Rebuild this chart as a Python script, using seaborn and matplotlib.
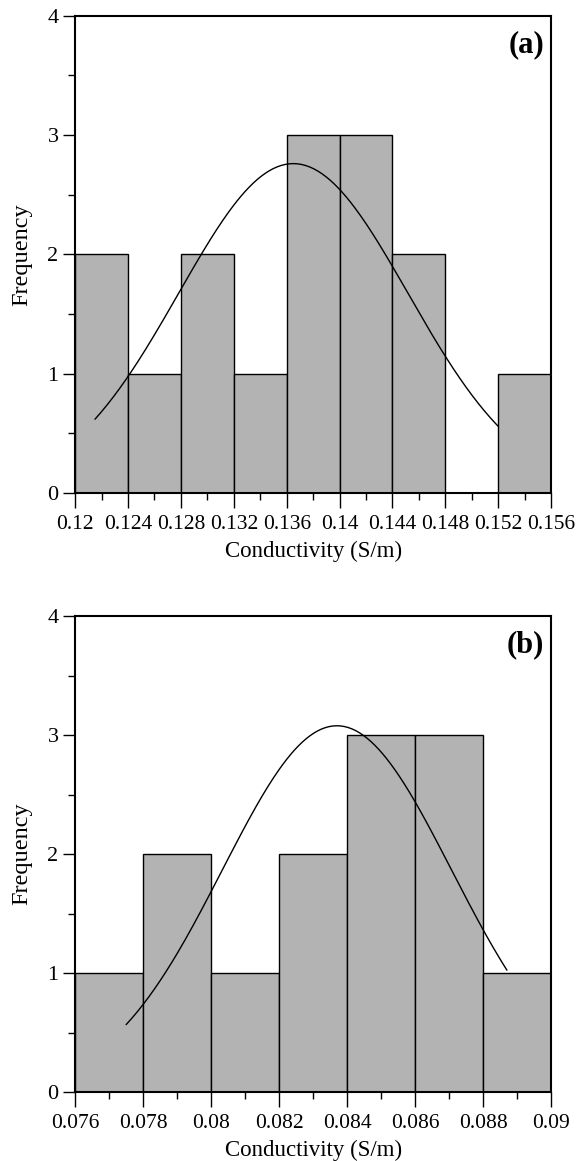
import numpy as np
import pandas as pd
import matplotlib
matplotlib.use("Agg")
import matplotlib.pyplot as plt
import seaborn as sns

# Panel (a): histogram bins and counts
edges_a = [0.12, 0.124, 0.128, 0.132, 0.136, 0.14, 0.144, 0.148, 0.152, 0.156]
counts_a = [2, 1, 2, 1, 3, 3, 2, 0, 1]
# fitted normal curve
mean_a, std_a = 0.1365, 0.00867
curve_range_a = (0.1215, 0.152)
xticklabels_a = ["0.12", "0.124", "0.128", "0.132", "0.136", "0.14", "0.144", "0.148", "0.152", "0.156"]

# Panel (b)
edges_b = [0.076, 0.078, 0.08, 0.082, 0.084, 0.086, 0.088, 0.09]
counts_b = [1, 2, 1, 2, 3, 3, 1]
mean_b, std_b = 0.0837, 0.00337
curve_range_b = (0.0775, 0.0887)
xticklabels_b = ["0.076", "0.078", "0.08", "0.082", "0.084", "0.086", "0.088", "0.09"]

yticks = [0, 1, 2, 3, 4]

sns.set_style("ticks")
plt.rcParams["font.family"] = ["Liberation Serif", "DejaVu Serif"]
plt.rcParams["text.color"] = "black"
plt.rcParams["axes.labelcolor"] = "black"
plt.rcParams["xtick.color"] = "black"
plt.rcParams["ytick.color"] = "black"

fig = plt.figure(figsize=(5.78, 11.61), dpi=100)
ax_a = fig.add_axes([0.130, 0.5754, 0.8235, 0.411])
ax_b = fig.add_axes([0.130, 0.0594, 0.8235, 0.410])


def draw_panel(ax, edges, counts, mean, std, crange, xticklabels, tag):
    e = np.array(edges)
    c = np.array(counts)
    centers = (e[:-1] + e[1:]) / 2
    df = pd.DataFrame({"x": centers, "w": c})
    sns.histplot(data=df, x="x", weights="w", bins=list(edges), ax=ax,
                 color="#b3b3b3", edgecolor="black", linewidth=1.0, alpha=1.0)

    # normal fit curve scaled to counts
    bw = e[1] - e[0]
    xs = np.linspace(crange[0], crange[1], 200)
    ys = c.sum() * bw / (std * np.sqrt(2 * np.pi)) * np.exp(-0.5 * ((xs - mean) / std) ** 2)
    sns.lineplot(x=xs, y=ys, ax=ax, color="black", linewidth=1.0)

    ax.set_xlim(e[0], e[-1])
    ax.set_ylim(0, 4)
    ax.set_xticks(e)
    ax.set_xticklabels(xticklabels, fontsize=15.5)
    ax.set_xticks(centers, minor=True)
    ax.set_yticks(yticks)
    ax.set_yticklabels([str(v) for v in yticks], fontsize=16)
    ax.set_yticks([0.5, 1.5, 2.5, 3.5], minor=True)
    ax.tick_params(axis="x", which="major", direction="out", length=11, width=1.0, pad=5)
    ax.tick_params(axis="y", which="major", direction="out", length=9, width=1.0, pad=3)
    ax.tick_params(axis="both", which="minor", direction="out", length=5, width=1.0)
    ax.set_xlabel("Conductivity (S/m)", fontsize=16.5, labelpad=5)
    ax.set_ylabel("Frequency", fontsize=17.5, labelpad=11)
    for sp in ax.spines.values():
        sp.set_visible(True)
        sp.set_color("black")
        sp.set_linewidth(1.5)
    ax.text(0.985, 0.97, tag, transform=ax.transAxes, ha="right", va="top",
            fontsize=22, fontweight="bold")


draw_panel(ax_a, edges_a, counts_a, mean_a, std_a, curve_range_a, xticklabels_a, "(a)")
draw_panel(ax_b, edges_b, counts_b, mean_b, std_b, curve_range_b, xticklabels_b, "(b)")

fig.savefig("out.png", dpi=100)
